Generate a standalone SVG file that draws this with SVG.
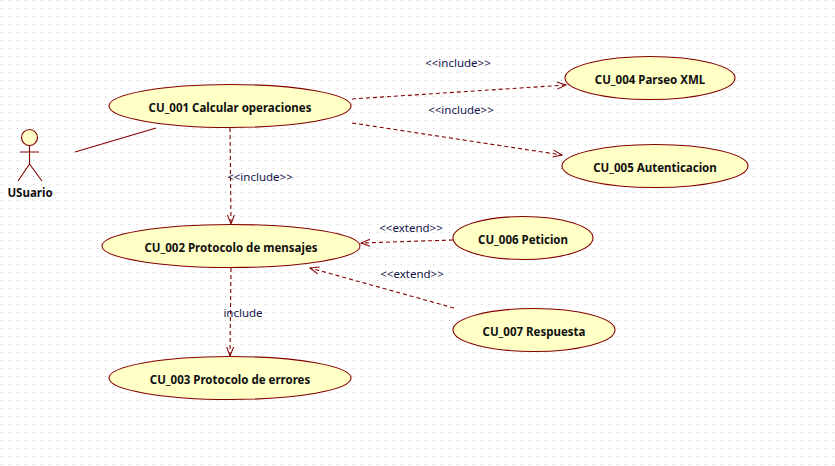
<svg xmlns="http://www.w3.org/2000/svg" width="835" height="466" viewBox="0 0 835 466">
<style>
.uc{fill:#ffffc6;stroke:#840000;stroke-width:1.1}
.ln{fill:none;stroke:#840000;stroke-width:1.1}
.d{stroke-dasharray:4 3}
.t{font-family:"Noto Sans",sans-serif;font-size:11.500px;font-weight:bold;fill:#101010;text-anchor:middle}
.l{font-family:"Noto Sans",sans-serif;font-size:11.500px;fill:#14144a;text-anchor:middle}
</style>
<defs>
<pattern id="grid" width="8" height="8" patternUnits="userSpaceOnUse"><rect x="1" y="0" width="1" height="1" fill="#c4c4c4"/></pattern>
<marker id="a" markerWidth="11" markerHeight="10" refX="10" refY="5" orient="auto" markerUnits="userSpaceOnUse"><path d="M1 1.500L10 5L1 8.500" fill="none" stroke="#840000" stroke-width="1"/></marker>
</defs>
<rect width="835" height="466" fill="#fff"/>
<rect width="835" height="466" fill="url(#grid)"/>
<g id="connectors">
<path class="ln" d="M75 152L156 128"/>
<path class="ln d" marker-end="url(#a)" d="M352 99L566 85"/>
<path class="ln d" marker-end="url(#a)" d="M352 123L562 155"/>
<path class="ln d" marker-end="url(#a)" d="M230 128L231 224"/>
<path class="ln d" marker-end="url(#a)" d="M453 240L361 243"/>
<path class="ln d" marker-end="url(#a)" d="M454 308L310 268"/>
<path class="ln d" marker-end="url(#a)" d="M231 268L230 356"/>
<text class="l" x="458" y="67">&lt;&lt;include&gt;&gt;</text>
<text class="l" x="461" y="114">&lt;&lt;include&gt;&gt;</text>
<text class="l" x="260" y="181">&lt;&lt;include&gt;&gt;</text>
<text class="l" x="411" y="232">&lt;&lt;extend&gt;&gt;</text>
<text class="l" x="412" y="278">&lt;&lt;extend&gt;&gt;</text>
<text class="l" x="243" y="317">include</text>
</g>
<g id="actor">
<circle class="uc" cx="29.500" cy="137.500" r="8"/>
<path class="ln" d="M29.500 146V164M20 152H39M29.500 164L18 181M29.500 164L42 181"/>
<text class="t" x="30" y="197">USuario</text>
</g>
<g id="cu001"><ellipse class="uc" cx="230" cy="106" rx="121" ry="21.500"/><text class="t" x="230" y="111.500">CU_001 Calcular operaciones</text></g>
<g id="cu002"><ellipse class="uc" cx="231" cy="246" rx="129" ry="21.500"/><text class="t" x="231" y="251.500">CU_002 Protocolo de mensajes</text></g>
<g id="cu003"><ellipse class="uc" cx="230" cy="378" rx="121" ry="21.500"/><text class="t" x="230" y="383.500">CU_003 Protocolo de errores</text></g>
<g id="cu004"><ellipse class="uc" cx="650" cy="78" rx="85" ry="21.500"/><text class="t" x="650" y="83.500">CU_004 Parseo XML</text></g>
<g id="cu005"><ellipse class="uc" cx="655" cy="166" rx="93" ry="21.500"/><text class="t" x="655" y="171.500">CU_005 Autenticacion</text></g>
<g id="cu006"><ellipse class="uc" cx="523" cy="238" rx="70" ry="21.500"/><text class="t" x="523" y="243.500">CU_006 Peticion</text></g>
<g id="cu007"><ellipse class="uc" cx="534" cy="330" rx="81" ry="21.500"/><text class="t" x="534" y="335.500">CU_007 Respuesta</text></g>
</svg>
